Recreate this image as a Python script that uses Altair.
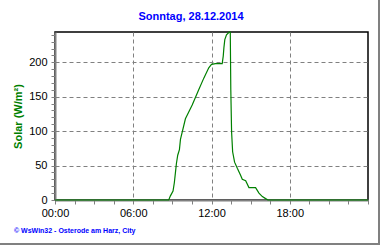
import altair as alt
import pandas as pd

# ---- data ----
hours = [0, 8.72, 8.85, 9.05, 9.15, 9.23, 9.31, 9.41, 9.54, 9.62, 10.0, 10.52,
         11.02, 11.41, 11.79, 12.0, 12.31, 12.82, 12.9, 12.95, 13.02, 13.15,
         13.36, 13.44, 13.48, 13.54, 13.62, 13.77, 13.98, 14.23, 14.36, 14.62,
         14.87, 15.38, 15.64, 15.9, 16.15, 16.33, 24]
solar = [0, 0, 6, 13, 25, 39, 53, 65, 73, 88, 118, 138,
         160, 177, 192, 197, 198, 198, 209, 221, 233, 240,
         244, 244, 160, 99, 70, 55, 46, 36, 30, 28,
         18, 18, 10, 5, 2, 0, 0]
x_ticks = [i * 1.5 for i in range(17)]
y_ticks = list(range(0, 250, 10))
title_text = ["Sonntag, 28.12.2014"]
footer_text = ["\u00a9 WsWin32 - Osterode am Harz, City"]
y_title = "Solar (W/m\u00b2)"

df = pd.DataFrame({"h": hours, "v": solar})

GRAY = "#808080"
FONT = "Liberation Sans"

x_axis = alt.Axis(
    values=x_ticks, title=None,
    labelExpr="datum.value % 6 === 0 && datum.value < 24 ? (datum.value < 10 ? '0' : '') + datum.value + ':00' : ''",
    labelFlush=False, labelOverlap=False, labelFont=FONT, labelFontSize=11,
    labelColor="black", labelPadding=3,
    tickSize=4, tickColor=GRAY, tickWidth=1,
    domainColor=GRAY, domainWidth=2,
    grid=True, gridColor=GRAY, gridDash=[4, 3], gridWidth=1,
    gridOpacity={"condition": {"test": "datum.value % 6 === 0 && datum.value > 0 && datum.value < 24", "value": 1}, "value": 0},
)
y_axis = alt.Axis(
    values=y_ticks, title=y_title,
    labelExpr="datum.value % 50 === 0 ? datum.label : ''",
    labelOverlap=False, labelFont=FONT, labelFontSize=11, labelColor="black",
    labelPadding=4, labelFlush=False,
    tickSize=4, tickColor=GRAY, tickWidth=1,
    domainColor=GRAY, domainWidth=2,
    grid=True, gridColor=GRAY, gridDash=[4, 3], gridWidth=1,
    gridOpacity={"condition": {"test": "datum.value % 50 === 0 && datum.value > 0", "value": 1}, "value": 0},
    titleFont=FONT, titleFontSize=11, titleFontWeight="bold", titleColor="#008000",
    titleX=-37, titleY=84, titleBaseline="middle", titleAngle=270, titleAlign="center",
)

line = alt.Chart(df).mark_line(color="#008000", strokeWidth=1.2, interpolate="linear").encode(
    x=alt.X("h:Q", scale=alt.Scale(domain=[0, 24], nice=False, zero=False), axis=x_axis),
    y=alt.Y("v:Q", scale=alt.Scale(domain=[0, 244], nice=False), axis=y_axis),
)

title = alt.Chart(pd.DataFrame({"t": title_text})).mark_text(
    font=FONT, fontSize=11, fontWeight="bold", color="#0000FF",
    align="center", baseline="middle"
).encode(text="t:N", x=alt.value(136), y=alt.value(-15))

footer = alt.Chart(pd.DataFrame({"t": footer_text})).mark_text(
    font=FONT, fontSize=7, fontWeight="bold", color="#0000FF",
    align="left", baseline="middle"
).encode(text="t:N", x=alt.value(-41), y=alt.value(199))

frame_df = pd.DataFrame({"a": [0]})
frame_right = alt.Chart(frame_df).mark_rule(color=GRAY, strokeWidth=2, clip=False).encode(
    x=alt.value(324), y=alt.value(-32), y2=alt.value(213))
frame_bottom = alt.Chart(frame_df).mark_rule(color=GRAY, strokeWidth=2, clip=False).encode(
    x=alt.value(-55), x2=alt.value(325), y=alt.value(212))

chart = alt.layer(line, title, footer, frame_right, frame_bottom).properties(
    width=313, height=168,
    autosize=alt.AutoSizeParams(type="none"),
    padding={"left": 55, "top": 32, "right": 12, "bottom": 45},
    background="white",
).configure_view(stroke="black", strokeWidth=1.5)

chart.save("out.html", embed_options={"renderer": "svg", "actions": False})
